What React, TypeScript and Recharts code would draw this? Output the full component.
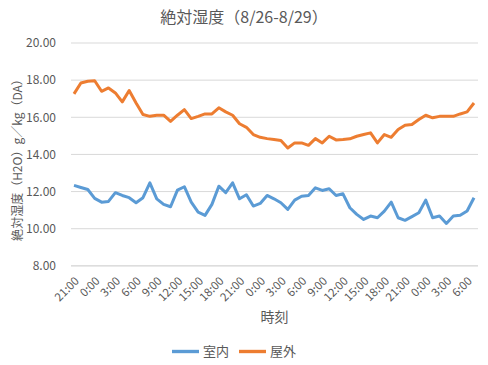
import React from 'react';
import { LineChart, Line, XAxis, YAxis, CartesianGrid, Legend } from 'recharts';

const TIMES = [
  '21:00', '22:00', '23:00',
  '0:00', '1:00', '2:00', '3:00', '4:00', '5:00', '6:00', '7:00', '8:00', '9:00', '10:00', '11:00',
  '12:00', '13:00', '14:00', '15:00', '16:00', '17:00', '18:00', '19:00', '20:00', '21:00', '22:00', '23:00',
  '0:00', '1:00', '2:00', '3:00', '4:00', '5:00', '6:00', '7:00', '8:00', '9:00', '10:00', '11:00',
  '12:00', '13:00', '14:00', '15:00', '16:00', '17:00', '18:00', '19:00', '20:00', '21:00', '22:00', '23:00',
  '0:00', '1:00', '2:00', '3:00', '4:00', '5:00', '6:00', '7:00',
];

const INDOOR = [
  12.33, 12.22, 12.11, 11.63, 11.43, 11.47, 11.94, 11.79, 11.67, 11.4,
  11.67, 12.47, 11.61, 11.31, 11.18, 12.08, 12.26, 11.43, 10.89, 10.72,
  11.31, 12.29, 11.94, 12.47, 11.61, 11.83, 11.22, 11.36, 11.79, 11.61,
  11.4, 11.04, 11.54, 11.75, 11.79, 12.2, 12.06, 12.15, 11.79, 11.88,
  11.13, 10.77, 10.5, 10.68, 10.59, 10.95, 11.43, 10.59, 10.45, 10.65,
  10.86, 11.54, 10.59, 10.68, 10.28, 10.68, 10.72, 10.95, 11.67,
];

const OUTDOOR = [
  17.26, 17.85, 17.94, 17.97, 17.4, 17.58, 17.31, 16.83, 17.44, 16.77,
  16.15, 16.05, 16.11, 16.11, 15.78, 16.11, 16.41, 15.93, 16.05, 16.18,
  16.18, 16.51, 16.29, 16.11, 15.65, 15.46, 15.07, 14.92, 14.85, 14.8,
  14.75, 14.35, 14.62, 14.62, 14.49, 14.85, 14.62, 14.98, 14.78, 14.8,
  14.84, 14.98, 15.07, 15.16, 14.62, 15.07, 14.92, 15.34, 15.57, 15.61,
  15.88, 16.11, 15.97, 16.05, 16.05, 16.05, 16.18, 16.29, 16.77,
];

const Y_TICKS = [8, 10, 12, 14, 16, 18, 20];

const FONT = "'Noto Sans CJK JP', 'Noto Sans', sans-serif";
const GRAY = '#595959';

const data = TIMES.map((t, i) => ({ t, indoor: INDOOR[i], outdoor: OUTDOOR[i] }));

export default function App() {
  return (
    <div style={{ position: 'absolute', left: 0, top: 0, width: 488, height: 365, background: '#fff', fontFamily: FONT }}>
      <div
        style={{
          position: 'absolute', top: 4, left: 0, width: 488, textAlign: 'center',
          fontSize: 16, color: GRAY, lineHeight: '24px',
        }}
      >
        絶対湿度（8/26-8/29）
      </div>
      <div
        style={{
          position: 'absolute', left: 17, top: 157, width: 200, marginLeft: -100, marginTop: -9,
          textAlign: 'center', fontSize: 12, lineHeight: '18px', color: GRAY,
          transform: 'rotate(-90deg)', whiteSpace: 'nowrap',
        }}
      >
        絶対湿度（H2O）g／kg（DA）
      </div>
      <LineChart width={488} height={365} data={data} margin={{ top: 43, right: 10, left: 0, bottom: 0 }}>
        <CartesianGrid vertical={false} stroke="#d9d9d9" />
        <XAxis
          dataKey="t"
          interval={2}
          padding={{ left: 3, right: 4 }}
          height={71}
          tickLine={false}
          axisLine={{ stroke: '#d9d9d9' }}
          tickMargin={4}
          angle={-45}
          textAnchor="end"
          tick={{ fill: GRAY, fontSize: 11.5, fontFamily: FONT }}
          label={{ value: '時刻', position: 'insideBottom', offset: 15, fill: GRAY, fontSize: 14, fontFamily: FONT }}
        />
        <YAxis
          domain={[8, 20]}
          ticks={Y_TICKS}
          width={71}
          axisLine={false}
          tickLine={false}
          tickMargin={9}
          tickFormatter={(v: number) => v.toFixed(2)}
          tick={{ fill: GRAY, fontSize: 12, fontFamily: FONT }}
        />
        <Legend
          verticalAlign="bottom"
          align="center"
          iconType="plainline"
          iconSize={27}
          formatter={(value: string) => <span style={{ color: GRAY, fontSize: 13, fontFamily: FONT }}>{value}</span>}
        />
        <Line
          name="室内"
          dataKey="indoor"
          stroke="#5B9BD5"
          strokeWidth={3}
          dot={false}
          strokeLinejoin="round"
          isAnimationActive={false}
        />
        <Line
          name="屋外"
          dataKey="outdoor"
          stroke="#ED7D31"
          strokeWidth={3}
          dot={false}
          strokeLinejoin="round"
          isAnimationActive={false}
        />
      </LineChart>
    </div>
  );
}
